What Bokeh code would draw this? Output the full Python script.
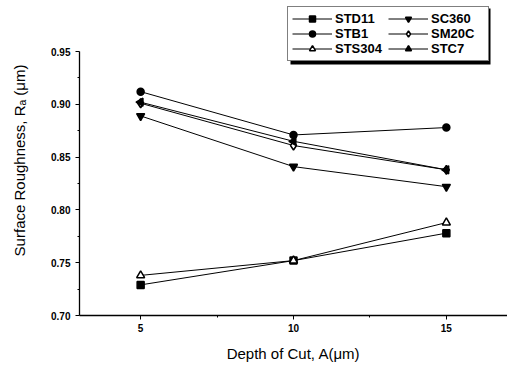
import math
from bokeh.plotting import figure
from bokeh.models import (Legend, LegendItem, FixedTicker, NumeralTickFormatter,
                          BoxAnnotation, Range1d)
from bokeh.embed import file_html
from bokeh.resources import INLINE

depth = [5, 10, 15]
std11 = [0.729, 0.752, 0.778]
stb1 = [0.912, 0.871, 0.878]
sts304 = [0.738, 0.752, 0.788]
sc360 = [0.889, 0.841, 0.822]
sm20c = [0.901, 0.861, 0.838]
stc7 = [0.902, 0.865, 0.838]

y_ticks = [0.70, 0.75, 0.80, 0.85, 0.90, 0.95]
y_minor = [0.725, 0.775, 0.825, 0.875, 0.925]
x_ticks = [5, 10, 15]
x_minor = [7.5, 12.5]

FONT = "Liberation Sans"

p = figure(width=507, height=367, output_backend="svg", toolbar_location=None,
           x_range=Range1d(3, 17), y_range=Range1d(0.70, 0.9936),
           min_border_left=79, min_border_right=0, min_border_top=5,
           min_border_bottom=52)
p.outline_line_color = None
p.grid.visible = False
p.background_fill_color = "white"
p.border_fill_color = "white"

for ax in (p.xaxis[0], p.yaxis[0]):
    ax.axis_line_color = "black"
    ax.axis_line_width = 1.3
    ax.major_tick_in = 0
    ax.major_tick_out = 4
    ax.minor_tick_in = 0
    ax.minor_tick_out = 2
    ax.major_label_text_font = FONT
    ax.major_label_text_font_style = "bold"
    ax.major_label_text_font_size = "10px"
    ax.major_label_text_color = "black"
    ax.axis_label_text_font = FONT
    ax.axis_label_text_font_style = "normal"
    ax.axis_label_text_font_size = "15px"
    ax.axis_label_text_color = "black"

p.xaxis[0].ticker = FixedTicker(ticks=x_ticks, minor_ticks=x_minor)
p.yaxis[0].ticker = FixedTicker(ticks=y_ticks, minor_ticks=y_minor)
p.yaxis[0].formatter = NumeralTickFormatter(format="0.00")
p.yaxis[0].bounds = (0.70, 0.95)
p.xaxis[0].axis_label = "Depth of Cut, A(\u03bcm)"
p.yaxis[0].axis_label = "Surface Roughness, R\u2090 (\u03bcm)"
p.xaxis[0].major_label_standoff = 4
p.yaxis[0].major_label_standoff = 5
p.xaxis[0].axis_label_standoff = 10
p.yaxis[0].axis_label_standoff = 20

series = [
    ("STD11", std11, "square", 0, "black", 7),
    ("STB1", stb1, "circle", 0, "black", 7),
    ("STS304", sts304, "triangle", 0, "white", 8),
    ("SC360", sc360, "inverted_triangle", 0, "black", 8),
    ("SM20C", sm20c, "diamond", 0, "white", 9),
    ("STC7", stc7, "triangle", math.pi / 2, "black", 8),
]

items = {}
for name, ys, marker, ang, fill, size in series:
    ln = p.line(depth, ys, line_color="black", line_width=1)
    sc = p.scatter(depth, ys, marker=marker, angle=ang, size=size,
                   fill_color=fill, line_color="black", line_width=1.5)
    items[name] = LegendItem(label=name, renderers=[ln, sc])

# legend shadow (decoration)
def px_to_x(px):
    return 3 + (px - 79) / (428 / 14)

def py_to_y(py):
    return 0.70 + (315 - py) / (310 / 0.2936)

shadow = BoxAnnotation(left=px_to_x(290), right=px_to_x(490),
                       top=py_to_y(8), bottom=py_to_y(64),
                       fill_color="black", fill_alpha=1, line_color=None,
                       level="annotation")
p.add_layout(shadow)

order = ["STD11", "STB1", "STS304", "SC360", "SM20C", "STC7"]
legend = Legend(items=[items[k] for k in order], location=(208, 254),
                orientation="vertical", nrows=3)
legend.label_text_font = FONT
legend.label_text_font_style = "bold"
legend.label_text_font_size = "13px"
legend.label_text_color = "black"
legend.glyph_width = 40
legend.glyph_height = 15
legend.label_height = 13
legend.label_width = 53
legend.label_standoff = 3
legend.spacing = 0
legend.padding = 4
legend.margin = 0
legend.border_line_color = "black"
legend.border_line_width = 1
legend.background_fill_color = "white"
legend.background_fill_alpha = 1
p.add_layout(legend)

open("out.html", "w").write(file_html(p, INLINE))
